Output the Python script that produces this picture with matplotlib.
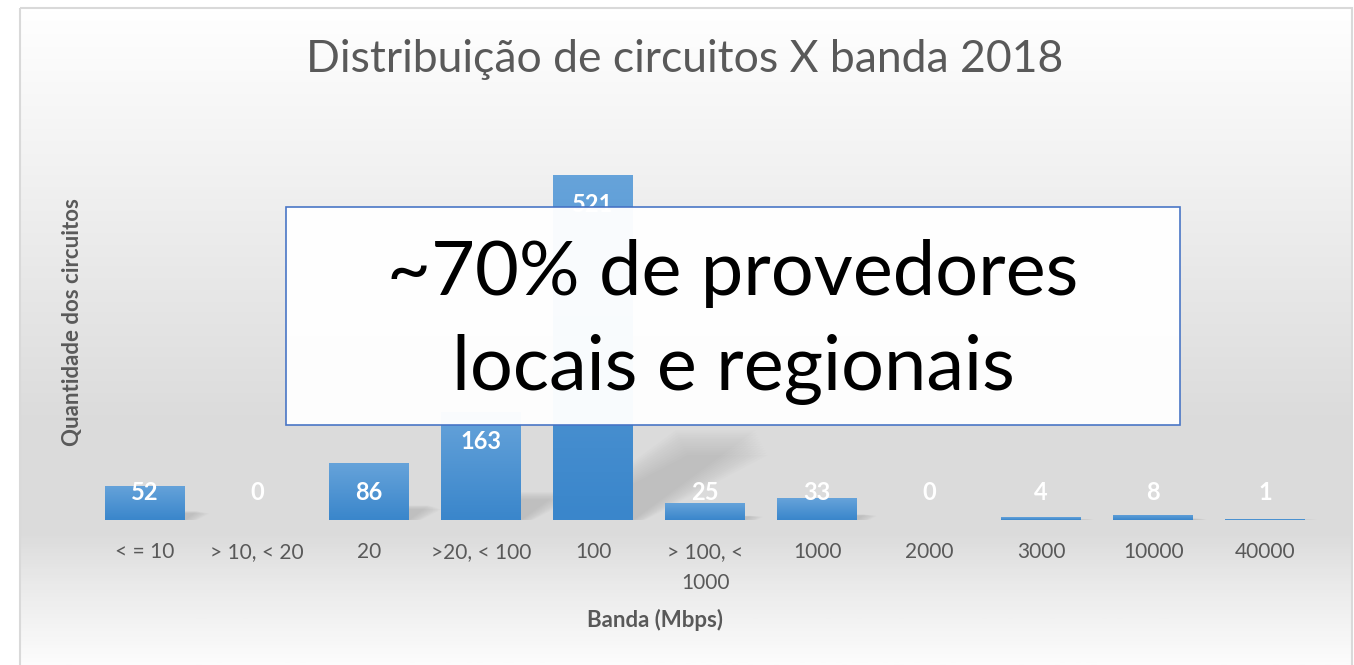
import numpy as np
import matplotlib
matplotlib.use("Agg")
import matplotlib.pyplot as plt
from matplotlib.patches import Rectangle, Polygon
from matplotlib.colors import LinearSegmentedColormap

# --------------------------------
# data
# --------------------------------
categories = ["< = 10", "> 10, < 20", "20", ">20, < 100", "100",
              "> 100, <\n1000", "1000", "2000", "3000", "10000", "40000"]
counts = [52, 0, 86, 163, 521, 25, 33, 0, 4, 8, 1]

title = "Distribuição de circuitos X banda 2018"
xlabel = "Banda (Mbps)"
ylabel = "Quantidade dos circuitos"
callout = "~70% de provedores\nlocais e regionais"

plt.rcParams["font.family"] = ["Lato", "DejaVu Sans"]
GRAY = "#595959"

fig = plt.figure(figsize=(13.54, 6.65), dpi=100)

# background gradient of the chart area
bg = fig.add_axes([0, 0, 1, 1], zorder=0)
bg.set_xlim(0, 1354)
bg.set_ylim(665, 0)
bg.axis("off")
stops = [(0.0, "#ffffff"), (0.22, "#f3f3f3"), (0.62, "#dcdcdc"),
         (0.80, "#dbdbdb"), (0.88, "#eaeaea"), (1.0, "#fcfcfc")]
bg_cmap = LinearSegmentedColormap.from_list("bg", stops)
grad = np.linspace(0, 1, 300).reshape(-1, 1)
bg.imshow(grad, cmap=bg_cmap, extent=[20, 1352, 665, 8], aspect="auto", vmin=0, vmax=1)
bg.add_patch(Rectangle((20, 8), 1332, 670, fill=False, edgecolor="#d9d9d9", lw=1.5))

# --------------------------------
# bars
# --------------------------------
ax = fig.add_axes([0.0657, 0.218, 0.91, 0.597], zorder=1)
ax.patch.set_alpha(0)
x = np.arange(len(categories))
ax.set_xlim(-0.5, len(categories) - 0.5)
ax.set_ylim(0, 600)
W = 0.714

bar_cmap = LinearSegmentedColormap.from_list("bar", ["#3a86cb", "#66a3da"])
bars = ax.bar(x, counts, width=W, color="#4a90d0", zorder=3)
for xi, b, v in zip(x, bars, counts):
    if v == 0:
        continue
    # perspective shadow falling to the upper right (soft, layered)
    h = 0.26 * v
    s = 0.0021 * v
    for k in range(12):
        g = 0.01 * k
        f = 1 - 0.025 * k
        ax.add_patch(Polygon([(xi - W / 2 + g, 0), (xi + W / 2 + g, 0),
                              (xi + W / 2 + s + g, h * f),
                              (xi - W / 2 + s + g, h * f)],
                             closed=True, color="#7a7a7a", alpha=0.025, lw=0, zorder=2))
    im = ax.imshow(np.linspace(0, 1, 100).reshape(-1, 1), cmap=bar_cmap, origin="lower",
                   extent=[b.get_x(), b.get_x() + b.get_width(), 0, v],
                   aspect="auto", zorder=3.5, vmin=0, vmax=1)
    im.set_clip_path(b)

for xi, v in zip(x, counts):
    ly = max(v - 44, 41)
    ax.text(xi, ly, str(v), ha="center", va="center", color="white",
            fontsize=17, fontweight="bold", zorder=5)

ax.set_xticks(x)
ax.set_xticklabels(categories, fontsize=15, color=GRAY, linespacing=1.65)
ax.tick_params(axis="x", length=0, pad=16)
ax.set_yticks([])
for s in ax.spines.values():
    s.set_visible(False)

fig.text(0.506, 0.91, title, ha="center", va="center", fontsize=32, color=GRAY)
fig.text(655 / 1354, 1 - 620 / 665, xlabel, ha="center", va="center", fontsize=16,
         fontweight="bold", color=GRAY)
fig.text(72 / 1354, 1 - 322 / 665, ylabel, ha="center", va="center", rotation=90,
         fontsize=16, fontweight="bold", color=GRAY)

# callout box
fig.patches.append(Rectangle((286 / 1354, 1 - 425 / 665), 894 / 1354, 218 / 665,
                             transform=fig.transFigure, facecolor="white", alpha=0.97,
                             edgecolor="#4472c4", lw=1.2, zorder=10))
fig.text(733 / 1354, 1 - 322 / 665, callout, ha="center", va="center",
         fontsize=54.5, color="black", linespacing=1.48, zorder=11)

fig.savefig("out.png", dpi=100)
